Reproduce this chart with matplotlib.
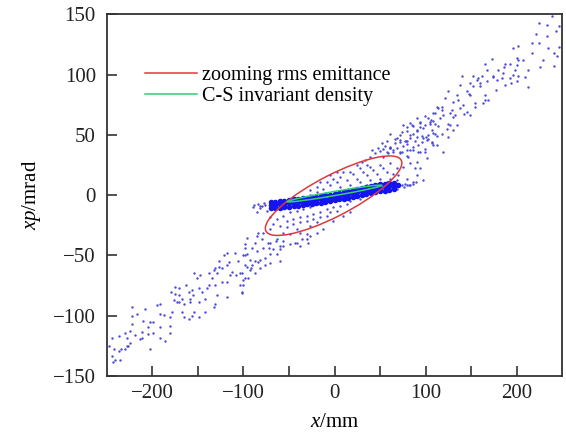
import numpy as np
import matplotlib.pyplot as plt
from matplotlib.patches import Ellipse
from matplotlib.lines import Line2D

plt.rcParams['font.family'] = ['Liberation Serif', 'DejaVu Serif']
plt.rcParams['mathtext.fontset'] = 'custom'
plt.rcParams['mathtext.rm'] = 'Liberation Serif'
plt.rcParams['mathtext.it'] = 'Liberation Serif:italic'

# halo particles, lower-left arm (x mm, xp mrad)
lower_pts = [(-244.6, -118.3), (-237.3, -116.9), (-248.3, -125.3), (-242.8, -128.1), (-237.3, -129.5),
             (-235.5, -136.5), (-244.6, -133.7), (-241.0, -136.5), (-230.0, -128.1), (-228.2, -125.3),
             (-224.5, -122.5), (-228.2, -118.3), (-230.0, -114.1), (-224.5, -112.6), (-222.7, -107.0),
             (-222.7, -100.0), (-222.7, -93.0), (-217.2, -98.6), (-209.9, -104.2), (-208.0, -94.4),
             (-204.4, -109.8), (-204.4, -115.5), (-202.5, -128.1), (-211.7, -118.3), (-213.5, -119.7),
             (-198.9, -105.6), (-198.9, -114.1), (-191.5, -90.2), (-191.5, -98.6), (-191.5, -109.8),
             (-191.5, -118.3), (-186.0, -121.1), (-180.5, -114.1), (-180.5, -108.4), (-180.5, -101.4),
             (-178.7, -97.2), (-176.9, -87.4), (-173.2, -88.8), (-175.1, -81.7), (-175.1, -76.1),
             (-171.4, -77.5), (-171.4, -83.2), (-167.7, -86.0), (-165.9, -90.2), (-167.7, -97.2),
             (-165.9, -101.4), (-160.4, -102.8), (-156.7, -100.0), (-154.9, -97.2), (-158.6, -88.8),
             (-158.6, -86.0), (-160.4, -80.3), (-156.7, -78.9), (-154.9, -64.9), (-151.2, -69.1),
             (-149.4, -77.5), (-145.7, -80.3), (-149.4, -88.8), (-149.4, -101.4), (-142.1, -97.2),
             (-142.1, -86.0), (-138.4, -64.9), (-132.9, -62.1), (-134.8, -69.1), (-131.1, -74.7),
             (-129.3, -83.2), (-131.1, -90.2), (-132.9, -93.0), (-138.4, -74.7), (-129.3, -64.9),
             (-127.4, -55.1), (-127.4, -59.3), (-123.8, -60.7), (-121.9, -49.4), (-118.3, -48.0),
             (-118.3, -57.9), (-118.3, -71.9), (-118.3, -84.6), (-114.6, -66.3), (-112.8, -63.5),
             (-109.1, -48.0), (-105.5, -55.1), (-103.6, -64.9), (-101.8, -80.3), (-100.0, -74.7),
             (-98.1, -43.8), (-98.1, -49.4), (-98.1, -41.0), (-96.3, -35.4), (-96.3, -59.3),
             (-98.1, -69.1),
             (-92.1, -60.8), (-100.0, -49.6), (-108.0, -66.3), (-115.9, -55.2), (-123.8, -71.9),
             (-131.8, -60.8), (-139.7, -77.5), (-147.6, -66.3), (-155.6, -83.1), (-163.5, -74.7),
             (-171.4, -88.7), (-179.4, -80.3), (-187.3, -99.8), (-195.3, -91.4), (-203.2, -105.4),
             (-211.1, -113.7), (-219.1, -116.5), (-227.0, -124.9), (-234.9, -127.7), (-242.9, -138.8),
             (-72.2, -44.0), (-84.1, -55.2), (-64.3, -38.5)]

# halo below the emittance ellipse
mid_low_pts = [(-83.7, -31.1), (-80.1, -36.7), (-87.4, -39.5), (-91.1, -43.7), (-85.5, -46.5),
               (-78.2, -43.7), (-72.7, -39.5), (-67.2, -45.1), (-70.9, -49.3), (-76.4, -52.1),
               (-81.9, -53.5), (-87.4, -54.9), (-92.9, -53.5), (-96.5, -49.3), (-98.4, -57.7),
               (-92.9, -61.9), (-87.4, -64.7), (-81.9, -60.5), (-76.4, -57.7), (-70.9, -56.3),
               (-63.6, -49.3), (-59.9, -42.3), (-56.2, -38.1), (-48.9, -40.9), (-43.4, -39.5),
               (-37.9, -42.3), (-36.1, -36.7), (-30.6, -32.5), (-28.8, -39.5), (-59.9, -54.9),
               (-102.0, -64.7), (-100.2, -70.3), (-94.7, -68.9), (-91.0, -57.7), (-103.9, -74.5),
               (-102.0, -81.5)]

# particles inside / around the rms ellipse
inner_pts = [(17.0, 19.3), (28.0, 22.1), (39.0, 23.5), (50.0, 24.9), (61.0, 26.3), (68.3, 22.1),
             (57.3, 19.3), (46.3, 17.9), (35.3, 16.5), (24.3, 13.7), (13.3, 12.3), (2.3, 10.9),
             (-5.0, 8.1), (-12.3, 5.3), (-19.6, 2.5), (-27.0, -0.3), (6.0, 15.1), (20.7, 17.9),
             (31.6, 19.3), (42.6, 20.7), (53.6, 22.1), (64.6, 17.9), (70.1, 16.5), (61.0, 13.7),
             (50.0, 13.7), (39.0, 12.3), (28.0, 10.9), (17.0, 8.1), (6.0, 6.7), (-1.3, 13.7),
             (35.3, 8.1), (46.3, 9.5), (57.3, 10.9), (68.3, 12.3), (-19.6, 6.7), (-34.3, -1.7),
             (-41.6, -3.1), (-8.7, 10.9), (9.7, 19.3), (24.3, 24.9), (2.3, 19.3), (-5.0, 16.5),
             (-16.0, 10.9), (-27.0, 3.9),
             (-56.3, -17.1), (-48.9, -14.3), (-41.6, -12.9), (-34.3, -11.5), (-27.0, -10.1),
             (-19.6, -7.3), (-12.3, -5.9), (-5.0, -4.5), (2.3, -3.1), (9.7, -1.7), (17.0, -0.3),
             (24.3, 1.1), (31.6, 2.5), (-52.6, -21.3), (-45.3, -19.9), (-37.9, -18.5), (-30.6, -17.1),
             (-23.3, -15.7), (-16.0, -14.3), (-8.7, -11.5), (-1.3, -10.1), (6.0, -8.7), (13.3, -7.3),
             (-59.9, -25.5), (-52.6, -26.9), (-45.3, -24.1), (-37.9, -22.7), (-30.6, -21.3),
             (-23.3, -19.9), (-16.0, -18.5), (-8.7, -17.1), (-67.3, -24.1), (-63.6, -19.9),
             (-70.9, -28.3), (-56.3, -31.1), (-41.6, -28.3), (-27.0, -25.5), (-19.6, -22.7),
             (-5.0, -14.3), (2.3, -12.9), (17.0, -4.5), (28.0, -3.1), (-48.9, -32.5), (-37.9, -31.1),
             (79.3, 13.7), (86.6, 10.9), (90.3, 16.5), (82.9, 8.1), (97.6, 12.3), (68.3, 5.3),
             (79.3, 8.1), (-81.9, -8.7), (-85.6, -14.3), (-74.6, -12.9), (-70.9, -18.5), (-89.2, -10.1),
             (-78.2, -31.1), (-85.6, -33.9), (-63.6, -36.7), (-41.6, -39.5), (-70.9, -39.5),
             (-56.3, -42.3), (-19.6, -31.1), (-27.0, -33.9), (-12.3, -28.3), (-1.3, -21.3),
             (9.7, -17.1), (17.0, -14.3), (-30.6, -36.7), (-59.9, -45.1), (82.9, 37.5), (72.0, 36.1),
             (61.0, 38.9), (90.3, 27.7), (93.9, 22.1), (101.2, 30.5), (108.6, 41.7), (119.6, 36.1),
             (97.6, 47.3), (79.3, 44.5), (68.3, 47.3)]

# halo just above the ellipse
upper_mid_pts = [(29.9, 27.8), (33.5, 29.2), (39.0, 32.0), (44.5, 34.8), (50.0, 36.2), (53.7, 32.0),
                 (59.2, 34.8), (64.7, 37.6), (68.3, 39.0), (75.7, 40.4), (79.3, 37.6), (72.0, 34.8),
                 (61.0, 39.0), (55.5, 40.4), (48.2, 39.0), (35.4, 25.0), (40.9, 37.6), (51.8, 43.2),
                 (57.3, 44.6), (66.5, 43.2), (72.0, 46.0), (77.5, 44.6), (83.0, 47.4), (88.5, 44.6),
                 (92.1, 41.8), (86.6, 37.6), (81.1, 32.0), (83.0, 26.4), (88.5, 22.2), (75.7, 23.6),
                 (90.3, 53.0), (95.8, 48.8), (101.3, 46.0), (106.8, 43.2), (97.6, 55.8), (105.0, 58.6),
                 (108.6, 51.6), (112.3, 48.8), (103.1, 64.2), (110.4, 68.4), (114.1, 72.6), (108.6, 61.4),
                 (94.0, 60.0), (83.0, 60.0), (86.6, 57.2), (79.3, 53.0), (72.0, 50.2), (99.5, 65.6),
                 (90.3, 64.2), (114.1, 57.2)]

# halo, upper-right arm
upper_pts = [(196.5, 122.4), (202.0, 123.8), (200.2, 114.0), (192.8, 108.4), (198.3, 104.2),
             (202.0, 98.6), (187.4, 108.4), (185.5, 101.4), (180.0, 104.2), (172.7, 112.6),
             (165.4, 108.4), (167.2, 104.2), (161.7, 98.6), (158.0, 97.2), (156.2, 95.8),
             (152.6, 98.6), (148.9, 93.0), (152.6, 90.2), (159.9, 90.2), (167.2, 94.4),
             (174.5, 98.6), (178.2, 95.8), (183.7, 97.2), (187.4, 91.6), (192.8, 97.2),
             (196.5, 100.0), (165.4, 83.2), (169.0, 79.0), (163.5, 76.2), (154.4, 76.2),
             (148.9, 83.2), (145.2, 86.0), (139.7, 98.6), (137.9, 91.6), (134.2, 83.2),
             (130.6, 77.6), (128.7, 70.6), (125.1, 86.0), (121.4, 80.4), (117.8, 73.4),
             (112.3, 73.4), (108.6, 67.8), (104.9, 60.8), (110.4, 59.4), (115.9, 63.6),
             (119.6, 66.4), (126.9, 67.8), (132.4, 66.4), (137.9, 72.0), (141.6, 74.8),
             (145.2, 69.2), (148.9, 66.4), (134.2, 58.0), (126.9, 58.0), (123.2, 55.2),
             (117.8, 51.0), (125.1, 48.2), (130.6, 53.8), (106.8, 53.8), (103.1, 49.6),
             (99.4, 58.0), (93.9, 60.8), (90.3, 53.8), (84.8, 58.0), (79.3, 56.6),
             (75.6, 58.0), (73.8, 52.4), (83.0, 49.6), (90.3, 48.2), (95.8, 44.0),
             (103.1, 46.8), (106.8, 44.0), (112.3, 41.2), (99.4, 38.4), (92.1, 35.6),
             (86.6, 39.8), (79.3, 42.6), (72.0, 44.0), (66.5, 46.8), (61.0, 51.0),
             (61.0, 39.8), (57.3, 35.6), (53.7, 38.4), (64.6, 35.6), (73.8, 35.6),
             (79.3, 32.8), (93.9, 35.6), (99.4, 35.6),
             (78.5, 45.2), (86.5, 50.7), (94.4, 56.3), (100.4, 48.0), (106.3, 61.9), (110.3, 50.7),
             (118.2, 70.3), (124.2, 59.1), (130.1, 64.7), (136.1, 78.6), (142.0, 67.5), (148.0, 84.2),
             (154.0, 73.1), (159.9, 92.6), (165.8, 78.6), (173.8, 98.1), (177.7, 87.0), (185.7, 106.5),
             (193.6, 92.6), (201.6, 112.1), (209.5, 98.1), (217.4, 126.0), (225.4, 106.5),
             (233.3, 131.6), (241.2, 117.7), (247.2, 140.0)]

top_pts = [(239, 149), (233, 141), (225, 143), (221, 134), (243, 136), (247, 123), (235, 122),
           (225, 126), (217, 118), (213, 104), (201, 95), (213, 90), (229, 112), (245, 115),
           (241, 107), (207, 112), (201, 108)]

# dense beam core
core_pts = [(-70, -8.5), (-70, -6.0), (-70, -11.0),
            (-65, -8.2), (-65, -5.7), (-65, -10.7), (-60, -7.6), (-60, -5.0), (-60, -10.5),
            (-55, -7.2), (-55, -4.5), (-55, -10.0), (-50, -6.8), (-50, -4.0), (-50, -9.5),
            (-45, -6.4), (-45, -3.6), (-45, -9.2), (-40, -6.0), (-40, -3.2), (-40, -8.8),
            (-35, -5.5), (-35, -2.8), (-35, -8.2), (-30, -5.1), (-30, -2.4), (-30, -7.8),
            (-25, -4.7), (-25, -2.0), (-25, -7.4), (-20, -4.2), (-20, -1.5), (-20, -6.9),
            (-15, -3.6), (-15, -0.9), (-15, -6.3), (-10, -3.0), (-10, -0.3), (-10, -5.7),
            (-5, -2.3), (-5, 0.4), (-5, -5.0), (0, -1.6), (0, 1.1), (0, -4.3),
            (5, -0.9), (5, 1.8), (5, -3.6), (10, -0.2), (10, 2.5), (10, -2.9),
            (15, 0.6), (15, 3.3), (15, -2.1), (20, 1.4), (20, 4.1), (20, -1.3),
            (25, 2.2), (25, 4.9), (25, -0.5), (30, 3.0), (30, 5.7), (30, 0.3),
            (35, 3.8), (35, 6.5), (35, 1.1), (40, 4.6), (40, 7.3), (40, 1.9),
            (45, 5.4), (45, 8.1), (45, 2.7), (50, 6.0), (50, 8.8), (50, 3.2),
            (55, 6.6), (55, 9.4), (55, 3.8), (60, 7.2), (60, 10.0), (60, 4.4),
            (65, 7.8), (65, 10.3), (65, 5.3), (70, 8.2)]

# sparse tails of the core
tail_pts = [(-88, -8.5), (-84, -7.5), (-80, -9.0), (-76, -8.0), (-78, -6.5), (-82, -10.5),
            (74, 8.5), (78, 9.5), (82, 8.0), (86, 9.5), (90, 10.5), (76, 6.5)]

# ellipse second moments: (sxx, sxy, syy), centre
rms_sigma = (5625.0, 2030.0, 1089.0)
rms_center = (-1.0, -0.5)
cs_sigma = (2704.0, 352.7, 49.0)
cs_center = (0.0, 1.3)


def add_ellipse(ax, sigma, center, color):
    sxx, sxy, syy = sigma
    vals, vecs = np.linalg.eigh(np.array([[sxx, sxy], [sxy, syy]]))
    ang = np.degrees(np.arctan2(vecs[1, 1], vecs[0, 1]))
    ax.add_patch(Ellipse(center, 2 * np.sqrt(vals[1]), 2 * np.sqrt(vals[0]), angle=ang,
                         fill=False, edgecolor=color, lw=1.1, zorder=4))


fig = plt.figure(figsize=(5.66, 4.34), dpi=100)
ax = fig.add_axes([0.189, 0.134, 0.804, 0.833])

halo = np.array(lower_pts + mid_low_pts + inner_pts + upper_mid_pts + upper_pts + top_pts + tail_pts)
core = np.array(core_pts)
ax.scatter(halo[:, 0], halo[:, 1], s=3, marker='o', color='#4b4bd8', linewidths=0, zorder=2)
ax.scatter(core[:, 0], core[:, 1], s=16, marker='o', color='#1414f0', linewidths=0, zorder=3)

add_ellipse(ax, rms_sigma, rms_center, '#e0383a')
add_ellipse(ax, cs_sigma, cs_center, '#30d070')

ax.set_xlim(-250, 250)
ax.set_ylim(-150, 150)
ax.set_xticks([-200, -100, 0, 100, 200])
ax.set_xticks([-150, -50, 50, 150], minor=True)
ax.set_yticks([-150, -100, -50, 0, 50, 100, 150])
ax.tick_params(which='both', direction='in', length=7, width=1.1, top=False, right=False,
               labelsize=15, colors='#222222')
ax.tick_params(axis='x', pad=6)
ax.tick_params(axis='y', pad=8)
for s in ax.spines.values():
    s.set_linewidth(1.3)
    s.set_color('#333333')

ax.set_xlabel('$x$/mm', fontsize=15, labelpad=7)
ax.set_ylabel('$xp$/mrad', fontsize=15, labelpad=7)

handles = [Line2D([], [], color='#e0383a', lw=1.1), Line2D([], [], color='#30d070', lw=1.1)]
ax.legend(handles, ['zooming rms emittance', 'C-S invariant density'], loc='upper left',
          bbox_to_anchor=(0.044, 0.908), frameon=False, fontsize=14.5, handlelength=2.6,
          handletextpad=0.2, labelspacing=0.1, borderpad=0.4)

plt.savefig('out.png')
